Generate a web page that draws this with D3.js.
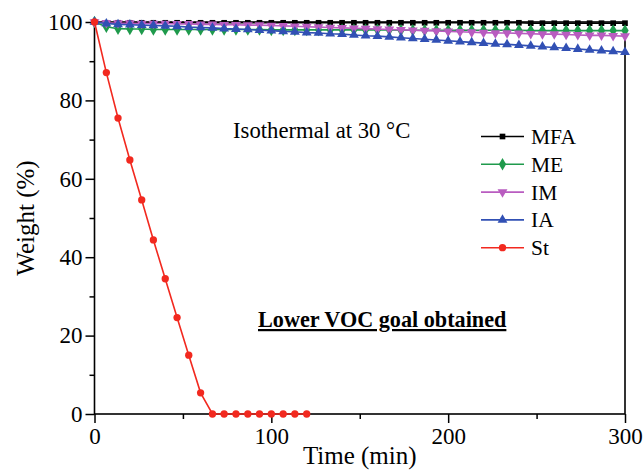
<!DOCTYPE html>
<html>
<head>
<meta charset="utf-8">
<script src="https://cdn.jsdelivr.net/npm/d3@7"></script>
<style>
  body { margin: 0; background: #fff; }
  svg { display: block; }
  text { font-family: "Liberation Serif", "Times New Roman", serif; }
</style>
</head>
<body>
<div id="chart"></div>
<script>
// sampling times (min), one point every ~6.7 min
const times = [0, 6.7, 13.3, 20, 26.7, 33.3, 40, 46.7, 53.3, 60, 66.7, 73.3, 80, 86.7, 93.3,
  100, 106.7, 113.3, 120, 126.7, 133.3, 140, 146.7, 153.3, 160, 166.7, 173.3, 180, 186.7, 193.3,
  200, 206.7, 213.3, 220, 226.7, 233.3, 240, 246.7, 253.3, 260, 266.7, 273.3, 280, 286.7, 293.3, 300];

const mfa = [100, 99.8, 99.8, 99.8, 99.8, 99.8, 99.8, 99.8, 99.8, 99.8, 99.8, 99.8, 99.8, 99.8, 99.8,
  99.8, 99.8, 99.8, 99.8, 99.8, 99.8, 99.8, 99.8, 99.8, 99.8, 99.8, 99.8, 99.8, 99.8, 99.8,
  99.8, 99.8, 99.8, 99.8, 99.8, 99.8, 99.8, 99.7, 99.7, 99.7, 99.7, 99.7, 99.7, 99.7, 99.7, 99.7];
const me = [100, 98.8, 98.3, 98.2, 98.2, 98.1, 98.1, 98.1, 98.1, 98.1, 98.1, 98.1, 98.1, 98.1, 98.1,
  98.0, 98.0, 98.0, 98.0, 98.0, 98.0, 98.0, 98.0, 98.0, 98.0, 98.0, 97.9, 97.9, 97.9, 97.9,
  97.9, 97.9, 97.9, 97.9, 97.9, 97.9, 97.9, 97.8, 97.8, 97.8, 97.8, 97.8, 97.8, 97.8, 97.8, 97.8];
const im = [100, 99.8, 99.7, 99.7, 99.6, 99.6, 99.6, 99.5, 99.5, 99.4, 99.4, 99.3, 99.3, 99.2, 99.2,
  99.1, 99.0, 98.9, 98.8, 98.7, 98.6, 98.5, 98.4, 98.3, 98.2, 98.1, 98.0, 97.9, 97.8, 97.7,
  97.6, 97.5, 97.4, 97.3, 97.2, 97.2, 97.1, 97.0, 96.9, 96.9, 96.8, 96.7, 96.6, 96.6, 96.5, 96.4];
const ia = [100, 99.6, 99.4, 99.3, 99.2, 99.1, 99.0, 98.9, 98.7, 98.6, 98.5, 98.3, 98.2, 98.1, 97.9,
  97.8, 97.6, 97.5, 97.3, 97.2, 97.0, 96.9, 96.7, 96.5, 96.4, 96.2, 96.0, 95.8, 95.6, 95.4,
  95.2, 95.0, 94.8, 94.6, 94.4, 94.3, 94.1, 93.9, 93.7, 93.5, 93.3, 93.1, 92.9, 92.7, 92.5, 92.3];
// St was only recorded up to 120 min
const st = [100, 87.1, 75.5, 64.8, 54.6, 44.4, 34.5, 24.6, 15.0, 5.4, 0, 0, 0, 0, 0, 0, 0, 0, 0];

const names = ["MFA", "ME", "IM", "IA", "St"];
const colors = ["#000000", "#1f9a4c", "#b95cc0", "#3150b4", "#f2291f"];
const xTicks = [0, 100, 200, 300];
const yTicks = [0, 20, 40, 60, 80, 100];

var width = 643;
var height = 470;
var margin = { top: 22, right: 18, bottom: 56, left: 94.5 };

var svg = d3.select("#chart").append("svg")
  .attr("width", width)
  .attr("height", height);

svg.append("rect")
  .attr("width", "100%")
  .attr("height", "100%")
  .attr("fill", "#fff");

var w = width - margin.left - margin.right;
var h = height - margin.top - margin.bottom;

var g = svg.append("g").attr("transform", "translate(" + margin.left + "," + margin.top + ")");

var x = d3.scaleLinear().domain([0, 300]).range([0, w]);
var y = d3.scaleLinear().domain([0, 100]).range([h, 0]);

// minor ticks first, then major ones with labels
g.append("g")
  .attr("transform", "translate(0," + h + ")")
  .call(d3.axisBottom(x).tickValues([50, 150, 250]).tickSize(5).tickFormat(""));
g.append("g")
  .call(d3.axisLeft(y).tickValues([10, 30, 50, 70, 90]).tickSize(5).tickFormat(""));

var xAxis = g.append("g")
  .attr("transform", "translate(0," + h + ")")
  .call(d3.axisBottom(x).tickValues(xTicks).tickSize(9).tickPadding(5).tickFormat(d3.format("d")));
var yAxis = g.append("g")
  .call(d3.axisLeft(y).tickValues(yTicks).tickSize(9).tickPadding(3).tickFormat(d3.format("d")));

g.selectAll(".domain").remove();
g.selectAll(".tick line").attr("stroke", "#000").attr("stroke-width", 1.5);
g.selectAll(".tick text")
  .attr("fill", "#000")
  .style("font-family", "Liberation Serif")
  .style("font-size", "23px");

// frame
g.append("rect")
  .attr("width", w)
  .attr("height", h)
  .attr("fill", "none")
  .attr("stroke", "#000")
  .attr("stroke-width", 1.6);

var symbols = [d3.symbolSquare, d3.symbolDiamond, d3.symbolTriangle, d3.symbolTriangle, d3.symbolCircle];
var symSizes = [32, 46, 42, 42, 42];
var rotations = [0, 0, 180, 0, 0];

var series = [mfa, me, im, ia, st];

var line = d3.line()
  .x(d => x(d[0]))
  .y(d => y(d[1]));

series.forEach((vals, i) => {
  var pts = vals.map((v, j) => [times[j], v]);
  g.append("path")
    .datum(pts)
    .attr("fill", "none")
    .attr("stroke", colors[i])
    .attr("stroke-width", 1.6)
    .attr("d", line);

  g.selectAll(".m" + i)
    .data(pts)
    .enter()
    .append("path")
    .attr("class", "m" + i)
    .attr("d", d3.symbol().type(symbols[i]).size(symSizes[i]))
    .attr("transform", d => "translate(" + x(d[0]) + "," + y(d[1]) + ") rotate(" + rotations[i] + ")")
    .attr("fill", colors[i]);
});

// legend
var legend = svg.append("g").attr("transform", "translate(481,0)");
names.forEach((n, i) => {
  var ly = 136.5 + i * 27.8;
  legend.append("line")
    .attr("x1", 0).attr("x2", 43)
    .attr("y1", ly).attr("y2", ly)
    .attr("stroke", colors[i])
    .attr("stroke-width", 1.6);
  legend.append("path")
    .attr("d", d3.symbol().type(symbols[i]).size(symSizes[i]))
    .attr("transform", "translate(21.5," + ly + ") rotate(" + rotations[i] + ")")
    .attr("fill", colors[i]);
  legend.append("text")
    .attr("x", 50)
    .attr("y", ly + 7.5)
    .style("font-size", "21.5px")
    .text(n);
});

// annotations
svg.append("text")
  .attr("x", 233)
  .attr("y", 138)
  .style("font-size", "22.7px")
  .text("Isothermal at 30 \u00B0C");

svg.append("text")
  .attr("x", 258)
  .attr("y", 327)
  .style("font-size", "22.2px")
  .style("font-weight", "bold")
  .style("text-decoration", "underline")
  .text("Lower VOC goal obtained");

// axis titles
svg.append("text")
  .attr("x", margin.left + w / 2)
  .attr("y", 464)
  .attr("text-anchor", "middle")
  .style("font-size", "25px")
  .text("Time (min)");

svg.append("text")
  .attr("transform", "translate(34," + (margin.top + h / 2) + ") rotate(-90)")
  .attr("text-anchor", "middle")
  .style("font-size", "25px")
  .text("Weight (%)");
</script>
</body>
</html>
